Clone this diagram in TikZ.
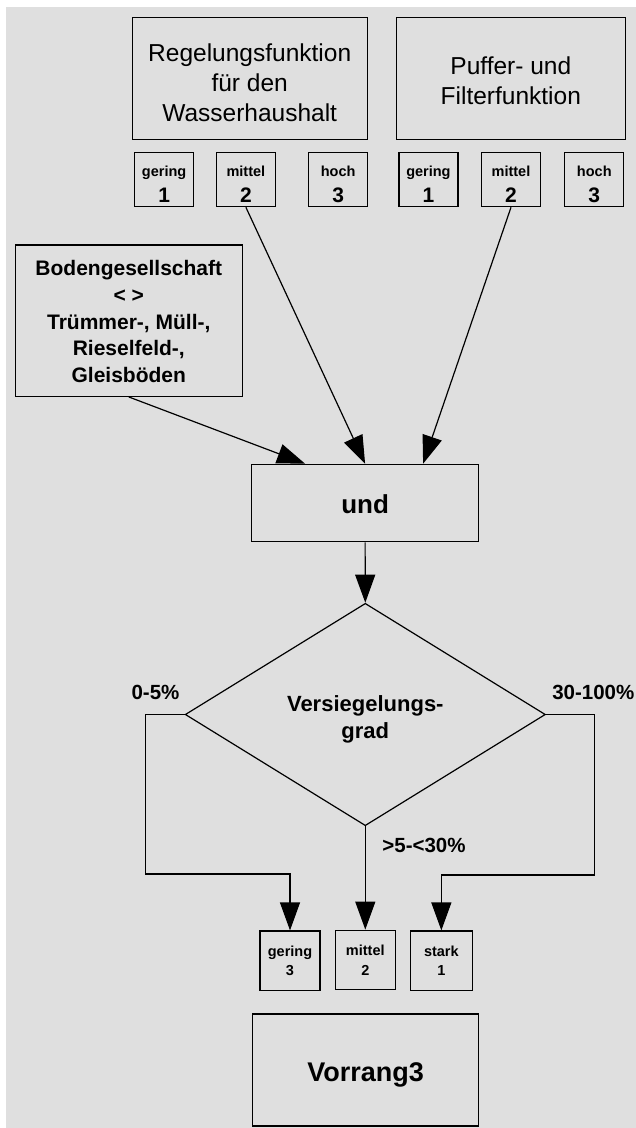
\documentclass[tikz,border=0pt]{standalone}
\usepackage{fontspec}
\setmainfont{Liberation Sans}
\usetikzlibrary{arrows.meta,shapes.geometric}
\definecolor{bg}{RGB}{223,223,223}
\newcommand\vlift[1]{\rule{0pt}{#1}}
\begin{document}
\begin{tikzpicture}[x=1pt,y=-1pt,
  box/.style={draw,line width=1.2pt,inner sep=0pt,align=center},
  small/.style={box,minimum width=59pt,minimum height=54.4pt,font=\bfseries\fontsize{14.5}{26}\selectfont},
  smallb/.style={box,minimum width=60pt,minimum height=59.6pt,font=\bfseries\fontsize{14.5}{19.5}\selectfont},
  lbl/.style={inner sep=0pt,font=\bfseries\fontsize{20.5}{24}\selectfont},
  arr/.style={line width=1.2pt,-{Triangle[length=28pt,width=20pt]}}]
\fill[white] (0,0) rectangle (636,1128);
\fill[bg] (6,7) rectangle (636,1128);
\useasboundingbox (0,0) rectangle (636,1128);

\node[box,minimum width=235pt,minimum height=122pt,font=\fontsize{24.5}{30}\selectfont] (reg) at (249.7,78.3) {\vlift{26pt}Regelungsfunktion\\für den\\Wasserhaushalt};
\node[box,minimum width=229pt,minimum height=122pt,font=\fontsize{24.5}{29.5}\selectfont] (puf) at (510.8,78.3) {\vlift{23pt}Puffer- und\\Filterfunktion};

\node[small] (regG) at (164.1,179.5) {\vlift{19.5pt}gering\\\fontsize{21}{26}\selectfont 1};
\node[small] (regM) at (245.9,179.5) {\vlift{19.5pt}mittel\\\fontsize{21}{26}\selectfont 2};
\node[small] (regH) at (338.2,179.5) {\vlift{19.5pt}hoch\\\fontsize{21}{26}\selectfont 3};
\node[small] (pufG) at (428.4,179.5) {\vlift{19.5pt}gering\\\fontsize{21}{26}\selectfont 1};
\node[small] (pufM) at (511,179.5) {\vlift{19.5pt}mittel\\\fontsize{21}{26}\selectfont 2};
\node[small] (pufH) at (594.3,179.5) {\vlift{19.5pt}hoch\\\fontsize{21}{26}\selectfont 3};

\node[box,minimum width=226.8pt,minimum height=151.3pt,font=\bfseries\fontsize{21}{26.8}\selectfont] (bod) at (128.8,320.7) {\vlift{17pt}Bodengesellschaft\\< >\\Trümmer-, Müll-,\\Rieselfeld-,\\Gleisböden};

\node[box,minimum width=227.2pt,minimum height=77.4pt,font=\bfseries\fontsize{26}{30}\selectfont] (und) at (365.1,503) {\vlift{21pt}und};

\node[draw,diamond,line width=1.2pt,inner sep=0pt,minimum width=360.2pt,minimum height=222.4pt,align=center,font=\bfseries\fontsize{22}{27}\selectfont] (dia) at (365.3,714.5) {\vlift{26pt}Versiegelungs-\\grad};

\node[lbl] (l05) at (155.5,692.7) {0-5\%};
\node[lbl] (l30) at (593.3,692) {30-100\%};
\node[lbl] (l5) at (424,845) {>5-<30\%};

\node[smallb] (g3) at (290,960.8) {gering\\3};
\node[smallb] (m3) at (365.3,960) {mittel\\2};
\node[smallb,minimum width=61.7pt] (s1) at (441.35,960.8) {stark\\1};

\node[box,minimum width=226pt,minimum height=112pt,font=\bfseries\fontsize{27}{30}\selectfont] (vor) at (365.7,1070) {\vlift{28pt}Vorrang3};

\coordinate (lA) at (145.6,874);
\coordinate (rA) at (594.3,875);

\draw[arr] (regM.south) -- (und.north);
\draw[arr] (pufM.south) -- ([xshift=58pt]und.north);
\draw[arr] (bod.south) -- ([xshift=-60pt]und.north);
\draw[arr] (und.south) -- (dia.north);
\draw[arr] (dia.west) -| (lA) -| (g3.north);
\draw[arr] (dia.south) -- (m3.north);
\draw[arr] (dia.east) -| (rA) -| (s1.north);
\end{tikzpicture}
\end{document}
